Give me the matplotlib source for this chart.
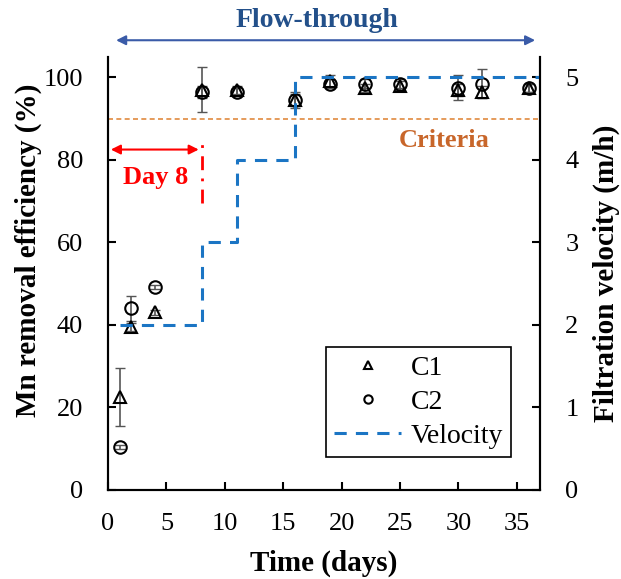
import numpy as np
import matplotlib.pyplot as plt
from matplotlib.lines import Line2D

# data
days = [1, 2, 4, 8, 11, 16, 19, 22, 25, 30, 32, 36]
c1 = [22.5, 39.5, 43.0, 97.0, 97.0, 94.5, 99.0, 97.5, 98.0, 97.0, 96.5, 97.5]
c1_err = [7.0, 1.0, 0.5, 5.5, 1.0, 2.0, 1.5, 1.0, 1.0, 1.5, 1.5, 1.0]
c2 = [10.3, 44.0, 49.2, 96.5, 96.5, 94.5, 98.5, 98.5, 98.5, 97.5, 98.5, 97.5]
c2_err = [0.5, 3.0, 0.5, 1.5, 1.0, 1.5, 1.0, 1.0, 1.0, 3.0, 3.5, 1.0]

vel_days = [1, 8, 8, 11, 11, 16, 16, 37]
vel = [2, 2, 3, 3, 4, 4, 5, 5]

criteria = 90

plt.rcParams['font.family'] = 'Liberation Serif'

fig = plt.figure(figsize=(6.21, 5.79), dpi=100)
ax1 = fig.add_axes([0.174, 0.154, 0.696, 0.748])
ax2 = ax1.twinx()

ax1.errorbar(days, c1, yerr=c1_err, fmt='none', ecolor='#555555', elinewidth=1.2, capsize=3.5, zorder=2)
ax1.errorbar(days, c2, yerr=c2_err, fmt='none', ecolor='#555555', elinewidth=1.2, capsize=3.5, zorder=2)
ax1.plot(days, c1, '^', mfc='none', mec='black', ms=9, mew=1.5, zorder=3)
ax1.plot(days, c2, 'o', mfc='none', mec='black', ms=9, mew=1.5, zorder=3)
ax1.axhline(criteria, color='#e08a40', ls=(0, (3, 2)), lw=1.2)

ax2.plot(vel_days, vel, ls=(0, (4, 3)), color='#1b75c4', lw=2.2)

ax1.set_xlim(0, 37)
ax1.set_ylim(0, 105)
ax2.set_ylim(0, 5.25)
ax1.set_xticks(np.arange(0, 40, 5))
ax1.set_yticks(np.arange(0, 120, 20))
ax2.set_yticks(np.arange(0, 6, 1))

for a in (ax1, ax2):
    a.spines['top'].set_visible(False)
    a.spines['left'].set_linewidth(1.5)
    a.spines['right'].set_linewidth(1.5)
    a.spines['bottom'].set_linewidth(1.5)
    a.tick_params(labelsize=19, width=1.5, length=6, direction='in')
ax1.tick_params(axis='x', pad=17)
ax1.tick_params(axis='y', pad=18)
ax2.tick_params(axis='y', pad=18)

ax1.set_xlabel('Time (days)', fontsize=21, fontweight='bold', labelpad=10)
ax1.set_ylabel('Mn removal efficiency (%)', fontsize=21, fontweight='bold')
ax1.yaxis.set_label_coords(-0.153, 0.553)
ax2.set_ylabel('Filtration velocity (m/h)', fontsize=21, fontweight='bold', labelpad=10)

# annotations
ax1.text(28.8, 84.8, 'Criteria', color='#c8662a', fontsize=19, fontweight='bold', ha='center', va='center')
ax1.annotate('', xy=(0, 82.5), xytext=(8, 82.5),
             arrowprops=dict(arrowstyle='<|-|>', color='red', lw=1.5, mutation_scale=14))
ax1.plot([8, 8], [69.5, 85], color='red', lw=2, ls=(0, (5, 3, 1, 3)))
ax1.text(4.05, 75.8, 'Day 8', color='red', fontsize=19, fontweight='bold', ha='center', va='center')
ax1.annotate('', xy=(0.45, 109), xytext=(36.8, 109), annotation_clip=False,
             arrowprops=dict(arrowstyle='<|-|>', color='#3a5ba8', lw=1.5, mutation_scale=14))
ax1.text(17.9, 113.7, 'Flow-through', color='#23508a', fontsize=20, fontweight='bold',
         ha='center', va='center', clip_on=False)

# legend
handles = [Line2D([], [], marker='^', ls='none', mfc='none', mec='black', ms=6, mew=1.5),
           Line2D([], [], marker='o', ls='none', mfc='none', mec='black', ms=6, mew=1.5),
           Line2D([], [], ls=(0, (4, 3)), color='#1b75c4', lw=2.2)]
leg = ax1.legend(handles, ['C1', 'C2', 'Velocity'], loc='lower right', bbox_to_anchor=(0.933, 0.076),
                 fontsize=20, frameon=True, fancybox=False, edgecolor='black', framealpha=1,
                 handlelength=2.4, handletextpad=0.35, borderpad=0.3, labelspacing=0.3,
                 borderaxespad=0)
leg.get_frame().set_linewidth(1.2)

fig.savefig('out.png', dpi=100)
